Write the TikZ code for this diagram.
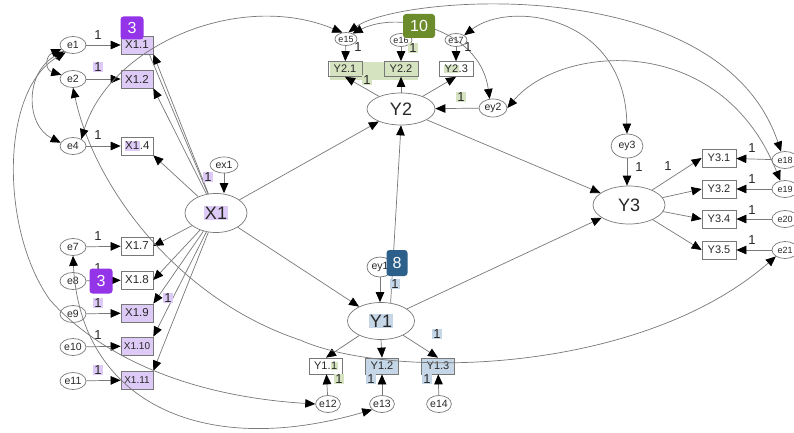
\documentclass[tikz,border=0pt]{standalone}
\usepackage{fontspec}
\setmainfont{Liberation Sans}
\usetikzlibrary{arrows.meta,shapes.geometric,calc}
\definecolor{ln}{RGB}{120,120,120}
\definecolor{tx}{RGB}{40,40,40}
\definecolor{hlP}{RGB}{222,202,246}
\definecolor{hlG}{RGB}{214,227,192}
\definecolor{hlB}{RGB}{197,214,231}
\definecolor{bdP}{RGB}{148,52,232}
\definecolor{bdG}{RGB}{108,140,44}
\definecolor{bdB}{RGB}{44,96,138}
\newcommand{\hlp}[1]{\begingroup\setlength{\fboxsep}{0.6pt}\colorbox{hlP}{#1}\endgroup}
\newcommand{\hlg}[1]{\begingroup\setlength{\fboxsep}{0.6pt}\colorbox{hlG}{#1}\endgroup}
\newcommand{\hlb}[1]{\begingroup\setlength{\fboxsep}{0.6pt}\colorbox{hlB}{#1}\endgroup}
\tikzset{
  base/.style={draw=ln, line width=0.7pt, text=tx, inner sep=0pt},
  eov/.style={base, ellipse, minimum width=26pt, minimum height=17pt, font=\fontsize{10.5}{11}\selectfont},
  sov/.style={base, ellipse, minimum width=22pt, minimum height=13pt, font=\fontsize{9}{10}\selectfont},
  box/.style={base, rectangle, minimum width=32pt, minimum height=18pt, font=\fontsize{11.5}{12}\selectfont},
  ybox/.style={base, rectangle, minimum width=34pt, minimum height=16pt, font=\fontsize{11}{12}\selectfont},
  lat/.style={base, ellipse, font=\fontsize{18}{19}\selectfont},
  arr/.style={draw=ln, line width=0.7pt, -{Triangle[length=10pt,width=8.5pt,color=black]}},
  barr/.style={draw=ln, line width=0.7pt, {Triangle[length=10pt,width=8.5pt,color=black]}-{Triangle[length=10pt,width=8.5pt,color=black]}},
  plain/.style={draw=ln, line width=0.7pt},
  one/.style={font=\fontsize{13}{13}\selectfont, text=tx, inner sep=1pt},
  badge/.style={rounded corners=3pt, text=white, font=\fontsize{16}{16}\selectfont, inner sep=0pt},
}
\begin{document}
\begin{tikzpicture}[x=1pt,y=-1pt]
\useasboundingbox (0,0) rectangle (794,433);
\fill[white] (0,0) rectangle (794,433);
\clip (0,0) rectangle (794,433);

% green band behind Y2.1 / Y2.2
\fill[hlG] (330,62) rectangle (418,80);

% ---------- X1 block ----------
\node[eov] (e1) at (73,45) {e1};
\node[eov] (e2) at (73,79) {e2};
\node[eov] (e4) at (73,146) {e4};
\node[eov] (e7) at (73,247) {e7};
\node[eov] (e8) at (73,281) {e8};
\node[eov] (e9) at (73,314) {e9};
\node[eov] (e10) at (73,347) {e10};
\node[eov] (e11) at (73,381) {e11};

\node[box, fill=hlP] (X11) at (137,45) {X1.1};
\node[box, fill=hlP] (X12) at (137,79) {X1.2};
\node[box] (X14) at (137,146) {\hlp{X1}.4};
\node[box] (X17) at (137,246) {X1.7};
\node[box] (X18) at (137,280) {X1.8};
\node[box, fill=hlP] (X19) at (137,313) {X1.9};
\node[box, fill=hlP, font=\fontsize{10}{11}\selectfont] (X110) at (137,346) {X1.10};
\node[box, fill=hlP, font=\fontsize{10}{11}\selectfont] (X111) at (137,380) {X1.11};

\node[lat, minimum width=62pt, minimum height=39pt] (X1) at (216,213) {\hlp{X1}};
\node[eov, minimum width=28pt, minimum height=16pt] (ex1) at (224,165) {ex1};

% ---------- Y2 block ----------
\node[lat, minimum width=68pt, minimum height=32pt] (Y2) at (401,109) {Y2};
\node[ybox, minimum height=15pt] (Y21) at (345,69) {Y2.1};
\node[ybox, minimum height=15pt] (Y22) at (401,69) {Y2.2};
\node[ybox, minimum height=15pt] (Y23) at (456,69) {\hlg{Y2}.3};
\node[sov] (e15) at (346,39) {e15};
\node[sov] (e16) at (401,40) {e16};
\node[sov] (e17) at (456,40) {e17};
\node[eov, minimum width=28pt, minimum height=18pt] (ey2) at (493,108) {ey2};

% ---------- Y3 block ----------
\node[lat, minimum width=72pt, minimum height=38pt] (Y3) at (629,205) {Y3};
\node[eov, minimum width=32pt, minimum height=24pt] (ey3) at (627,146) {ey3};
\node[ybox, minimum height=18pt] (Y31) at (719,158) {Y3.1};
\node[ybox, minimum height=18pt] (Y32) at (719,189) {Y3.2};
\node[ybox, minimum height=18pt] (Y34) at (719,219) {Y3.4};
\node[ybox, minimum height=18pt] (Y35) at (719,250) {Y3.5};
\node[eov, font=\fontsize{9}{10}\selectfont] (e18) at (785,160) {e18};
\node[eov, font=\fontsize{9}{10}\selectfont] (e19) at (785,189) {e19};
\node[eov, font=\fontsize{9}{10}\selectfont] (e20) at (785,219) {e20};
\node[eov, font=\fontsize{9}{10}\selectfont] (e21) at (785,250) {e21};

% ---------- Y1 block ----------
\node[lat, minimum width=67pt, minimum height=37pt] (Y1) at (381,321) {\hlb{Y1}};
\node[eov, minimum width=26pt, minimum height=20pt] (ey1) at (380,267) {ey1};
\node[ybox, minimum width=33pt] (Y11) at (326,366) {Y1.\hlg{1}};
\node[ybox, minimum width=33pt, fill=hlB] (Y12) at (382,366) {Y1.2};
\node[ybox, minimum width=33pt, fill=hlB] (Y13) at (438,366) {Y1.3};
\node[eov, minimum width=24pt] (e12) at (328,404) {e12};
\node[eov, minimum width=24pt] (e13) at (382,404) {e13};
\node[eov, minimum width=24pt] (e14) at (439,404) {e14};

% ---------- measurement arrows, X1 ----------
\draw[arr] (e1) -- (X11);
\draw[arr] (e2) -- (X12);
\draw[arr] (e4) -- (X14);
\draw[arr] (e7) -- (X17);
\draw[arr] (e8) -- (X18);
\draw[arr] (e9) -- (X19);
\draw[arr] (e10) -- (X110);
\draw[arr] (e11) -- (X111);
\draw[arr] (X1) -- (X11.south east);
\draw[plain] (X1) -- ($(X11.south east)+(-4,0)$);
\draw[arr] (X1) -- (X12.south east);
\draw[arr] (X1) -- (X14.south east);
\draw[arr] (X1) -- (X17.east);
\draw[arr] (X1) -- (X18.east);
\draw[arr] (X1) -- (X19.north east);
\draw[arr] (X1) -- (X110.north east);
\draw[arr] (X1) -- (X111.north east);
\draw[arr] (ex1.south) -- (ex1.south |- X1.north);

% ---------- structural ----------
\draw[arr] (X1) -- (Y2);
\draw[arr] (X1) -- (Y1);
\draw[arr] (Y1.62) -- (Y2.south);
\draw[arr] (Y1) -- (Y3);
\draw[arr] (Y2) -- (Y3);
\draw[arr] (ey1.south) -- (ey1.south |- Y1.north);
\draw[arr] (ey3.south) -- (ey3.south |- Y3.north);
\draw[arr] (ey2) -- (Y2);

% ---------- Y2 measurement ----------
\draw[arr] (Y2) -- (Y21.south);
\draw[arr] (Y2.north) -- (Y22.south);
\draw[arr] (Y2) -- (Y23.south);
\draw[arr] (e15) -- (Y21);
\draw[arr] (e16) -- (Y22);
\draw[arr] (e17) -- (Y23);

% ---------- Y3 measurement ----------
\draw[arr] (Y3) -- (Y31.west);
\draw[arr] (Y3) -- (Y32.west);
\draw[arr] (Y3) -- (Y34.west);
\draw[arr] (Y3) -- (Y35.west);
\draw[arr] (e18) -- (Y31);
\draw[arr] (e19) -- (Y32);
\draw[arr] (e20) -- (Y34);
\draw[arr] (e21) -- (Y35);

% ---------- Y1 measurement ----------
\draw[arr] (Y1) -- (Y11.north);
\draw[arr] (Y1.south) -- (Y12.north);
\draw[arr] (Y1) -- (Y13.north);
\draw[arr] (e12) -- (Y11);
\draw[arr] (e13) -- (Y12);
\draw[arr] (e14) -- (Y13);

% ---------- covariances ----------
\draw[barr] (e1.200) .. controls (45,56) and (45,70) .. (e2.160);
\draw[barr] (e1.215) .. controls (25,72) and (25,125) .. (e4.165);
\draw[barr] (e1.225) .. controls (0,90) and (0,230) .. (50,300) .. controls (90,345) and (170,395) .. (e12.west);
\draw[barr] (e7.south) .. controls (80,400) and (200,460) .. (e13.210);
\draw[barr] (e2.south) .. controls (95,190) and (180,300) .. (300,340) .. controls (390,380) and (640,375) .. (e21.215);
\draw[barr] (e4.40) .. controls (110,45) and (240,-10) .. (e15.120);
\draw[barr] (e15.70) .. controls (400,-5) and (720,-30) .. (e18.115);
\draw[barr] (e15.40) .. controls (400,10) and (480,30) .. (ey2.110);
\draw[barr] (e17.30) .. controls (510,0) and (625,15) .. (ey3.north);
\draw[barr] (ey2.east) .. controls (560,45) and (720,30) .. (e19.120);

% ---------- "1" labels ----------
\node[one] (l1) at (98,35) {1};
\node[one, fill=hlP] (l2) at (98,67) {1};
\node[one] (l4) at (98,135) {1};
\node[one] (l7) at (98,236) {1};
\node[one] (l8) at (98,268) {1};
\node[one, fill=hlP] (l9) at (98,303) {1};
\node[one] (l10) at (98,335) {1};
\node[one, fill=hlP] (l11) at (98,370) {1};
\node[one, fill=hlP] (lx19) at (168,298) {1};
\node[one, fill=hlP] (lex1) at (208,177) {1};
\node[one] (l15) at (358,47) {1};
\node[one, fill=hlG] (l16) at (413,48) {1};
\node[one] (l17) at (468,47) {1};
\node[one, fill=hlG] (ly21) at (367,80) {1};
\node[one, fill=hlG] (ley2) at (461,97) {1};
\node[one] (ley3) at (639,167) {1};
\node[one] (ly31) at (668,166) {1};
\node[one] (l18) at (752,148) {1};
\node[one] (l19) at (752,179) {1};
\node[one] (l20) at (752,210) {1};
\node[one] (l21) at (752,240) {1};
\node[one, fill=hlB] (ley1) at (395,284) {1};
\node[one, fill=hlB] (ly13) at (437,334) {1};
\node[one, fill=hlG] (l12) at (339,379) {1};
\node[one, fill=hlB] (l13) at (371,379) {1};
\node[one, fill=hlB] (l14) at (427,379) {1};

% ---------- badges ----------
\node[badge, fill=bdP, minimum width=23pt, minimum height=23pt] (b1) at (132,28) {3};
\node[badge, fill=bdP, minimum width=23pt, minimum height=25pt] (b2) at (101,281) {3};
\node[badge, fill=bdG, minimum width=32pt, minimum height=24pt] (b3) at (419,26) {10};
\node[badge, fill=bdB, minimum width=21pt, minimum height=26pt] (b4) at (397,263) {8};
\end{tikzpicture}
\end{document}
